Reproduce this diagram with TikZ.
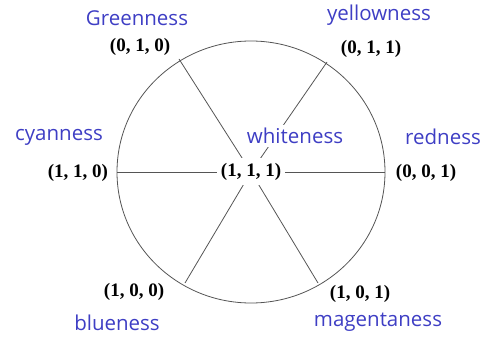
\documentclass[tikz,border=0pt]{standalone}
\usepackage{fontspec}
\usepackage{tikz}
\usepackage{xcolor}
\newfontfamily\namefont{Open Sans}
\newfontfamily\triplefont{Liberation Serif}
\definecolor{nameblue}{RGB}{62,62,196}
\definecolor{spokegray}{RGB}{85,85,85}

\begin{document}
\begin{tikzpicture}[x=1pt, y=-1pt,
    cname/.style={font=\namefont\fontsize{20.5}{20.5}\selectfont, text=nameblue, inner sep=1pt},
    ctriple/.style={font=\triplefont\fontsize{19}{19}\selectfont\bfseries, inner sep=1pt},
    spoke/.style={draw=spokegray, line width=0.8pt}]
    \useasboundingbox (0,0) rectangle (485,342);

    % Hue circle
    \coordinate (c) at (251,172);
    \draw[spoke] (c) ellipse [x radius=134pt, y radius=131pt];

    % Points on the circle
    \coordinate (pgreen) at (179,59);
    \coordinate (pyellow) at (327,62);
    \coordinate (pcyan) at (117,172);
    \coordinate (pred) at (385,172);
    \coordinate (pblue) at (185,283);
    \coordinate (pmagenta) at (318,283);

    % Spokes
    \draw[spoke] (pcyan) -- (pred);
    \draw[spoke] (c) -- (pgreen);
    \draw[spoke] (c) -- (pyellow);
    \draw[spoke] (c) -- (pblue);
    \draw[spoke] (c) -- (pmagenta);

    % Colour triples
    \node[ctriple, fill=white, inner xsep=4pt, minimum height=27pt] (t111) at (c) {(1, 1, 1)};
    \node[ctriple] (t110) at (78,173) {(1, 1, 0)};
    \node[ctriple] (t001) at (426,173) {(0, 0, 1)};
    \node[ctriple] (t010) at (140,47) {(0, 1, 0)};
    \node[ctriple] (t011) at (371,49) {(0, 1, 1)};
    \node[ctriple] (t100) at (134,292) {(1, 0, 0)};
    \node[ctriple] (t101) at (360,294) {(1, 0, 1)};

    % Colour names
    \node[cname] (green) at (137,18) {Greenness};
    \node[cname] (yellow) at (379,15) {yellowness};
    \node[cname] (cyan) at (59,137) {cyanness};
    \node[cname, fill=white, inner ysep=3pt] (white) at (295,136) {whiteness};
    \node[cname] (red) at (443,137) {redness};
    \node[cname] (blue) at (117,323) {blueness};
    \node[cname] (magenta) at (378,322) {magentaness};
\end{tikzpicture}
\end{document}
